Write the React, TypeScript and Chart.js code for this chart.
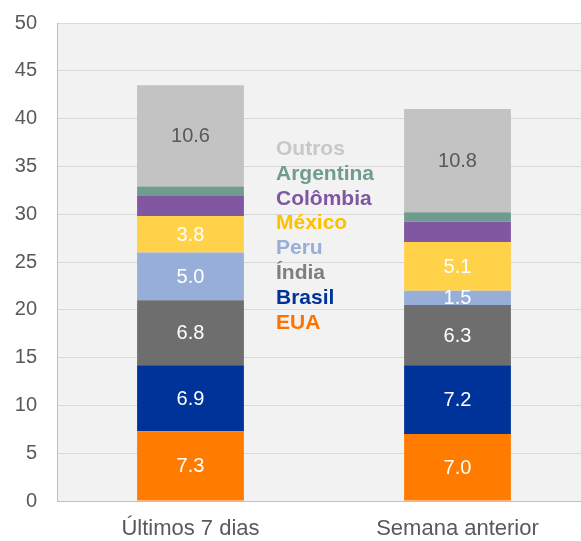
import React, { useEffect, useRef } from "react";
import { Chart, registerables } from "chart.js";

Chart.register(...registerables);

const categories = ["Últimos 7 dias", "Semana anterior"];
const seriesNames = ["EUA", "Brasil", "Índia", "Peru", "México", "Colômbia", "Argentina", "Outros"];
const euaValues = [7.3, 7.0];
const brasilValues = [6.9, 7.2];
const indiaValues = [6.8, 6.3];
const peruValues = [5.0, 1.5];
const mexicoValues = [3.8, 5.1];
const colombiaValues = [2.1, 2.1];
const argentinaValues = [1.0, 1.0];
const outrosValues = [10.6, 10.8];
const yTicks = [0, 5, 10, 15, 20, 25, 30, 35, 40, 45, 50];

const seriesValues = [euaValues, brasilValues, indiaValues, peruValues, mexicoValues, colombiaValues, argentinaValues, outrosValues];
const barColors = ["#FF7C00", "#003399", "#6E6E6E", "#97AED8", "#FFD24A", "#8057A0", "#6F9C8F", "#C3C3C3"];
const legendColors = ["#FF7200", "#003399", "#7F7F7F", "#97AED8", "#FFC000", "#7F57A0", "#6F9C8F", "#C8C8C8"];
const labelColors = ["#FFFFFF", "#FFFFFF", "#FFFFFF", "#FFFFFF", "#FFFFFF", null, null, "#595959"];

const FONT = "'Liberation Sans', Arial, sans-serif";

const bgPlugin = {
  id: "plotBg",
  beforeDraw(chart: any) {
    const { ctx, chartArea } = chart;
    ctx.save();
    ctx.fillStyle = "#F2F2F2";
    ctx.fillRect(chartArea.left, chartArea.top, chartArea.right - chartArea.left, chartArea.bottom - chartArea.top);
    ctx.restore();
  },
};

const labelPlugin = {
  id: "valueLabels",
  afterDatasetsDraw(chart: any) {
    const { ctx } = chart;
    ctx.save();
    ctx.font = `20px ${FONT}`;
    ctx.textAlign = "center";
    ctx.textBaseline = "middle";
    chart.data.datasets.forEach((ds: any, i: number) => {
      const color = labelColors[i];
      if (!color) return;
      const meta = chart.getDatasetMeta(i);
      meta.data.forEach((el: any, j: number) => {
        const v = ds.data[j];
        const cy = (el.y + el.base) / 2;
        ctx.fillStyle = color;
        ctx.fillText(v.toFixed(1), el.x, cy + 1);
      });
    });
    ctx.restore();
  },
};

const legendPlugin = {
  id: "sideLegend",
  afterDraw(chart: any) {
    const { ctx } = chart;
    ctx.save();
    ctx.font = `bold 21px ${FONT}`;
    ctx.textAlign = "left";
    ctx.textBaseline = "middle";
    const n = seriesNames.length;
    for (let k = 0; k < n; k++) {
      const idx = n - 1 - k;
      ctx.fillStyle = legendColors[idx];
      ctx.fillText(seriesNames[idx], 276, 149 + k * 24.9);
    }
    ctx.restore();
  },
};

export default function App() {
  const ref = useRef<HTMLCanvasElement>(null);
  useEffect(() => {
    if (!ref.current) return;
    const chart = new Chart(ref.current, {
      type: "bar",
      data: {
        labels: categories,
        datasets: seriesNames.map((name, i) => ({
          label: name,
          data: seriesValues[i],
          backgroundColor: barColors[i],
          borderWidth: 0,
          barPercentage: 0.4,
          categoryPercentage: 1,
        })),
      },
      options: {
        animation: false,
        responsive: false,
        maintainAspectRatio: false,
        layout: { padding: { top: 23, right: 9, left: 0, bottom: 0 } },
        plugins: { legend: { display: false }, tooltip: { enabled: false } },
        scales: {
          x: {
            stacked: true,
            grid: { display: false, drawTicks: false },
            border: { display: true, color: "#BFBFBF", width: 1 },
            ticks: { color: "#595959", font: { size: 22, family: FONT }, padding: 15 },
            afterFit(scale: any) {
              scale.height = 40;
              scale.paddingLeft = 0;
              scale.paddingRight = 0;
            },
          },
          y: {
            stacked: true,
            min: 0,
            max: 50,
            afterBuildTicks(scale: any) {
              scale.ticks = yTicks.map((v) => ({ value: v }));
            },
            grid: { color: "#D9D9D9", lineWidth: 1, drawTicks: false },
            border: { display: true, color: "#BFBFBF", width: 1 },
            ticks: { color: "#595959", font: { size: 20, family: FONT }, padding: 20 },
            afterFit(scale: any) {
              scale.width = 57;
              scale.paddingTop = 0;
              scale.paddingBottom = 0;
            },
          },
        },
      },
      plugins: [bgPlugin, labelPlugin, legendPlugin],
    });
    return () => chart.destroy();
  }, []);
  return (
    <div style={{ position: "fixed", left: 0, top: 0, width: 581, height: 541, overflow: "hidden", background: "#fff" }}>
      <canvas ref={ref} width={600} height={541} style={{ width: 600, height: 541, display: "block" }} />
    </div>
  );
}
